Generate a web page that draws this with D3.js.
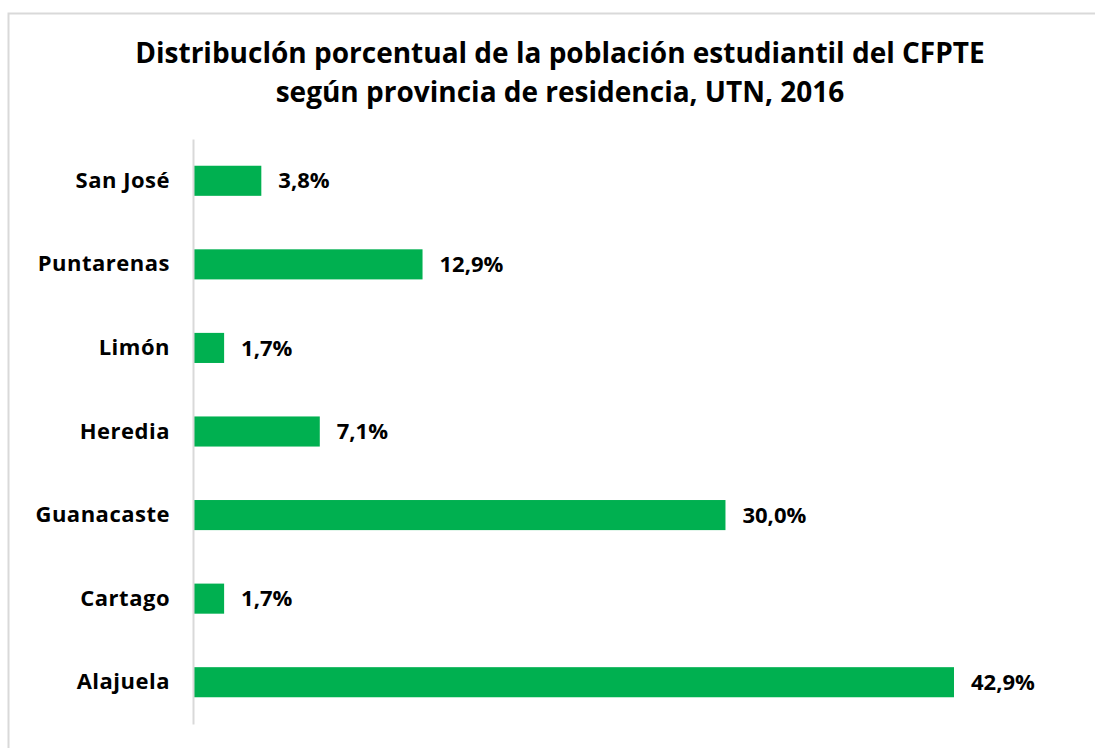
<!DOCTYPE html>
<html>
<head>
<meta charset="utf-8">
<script src="https://cdn.jsdelivr.net/npm/d3@7"></script>
<style>
  body { margin: 0; background: #fff; }
  text { font-family: "Open Sans", sans-serif; font-weight: bold; fill: #000; }
</style>
</head>
<body>
<div id="container"></div>
<script>
var provincias = ["San José", "Puntarenas", "Limón ", "Heredia", "Guanacaste", "Cartago", "Alajuela"];
var porcentajes = [3.8, 12.9, 1.7, 7.1, 30.0, 1.7, 42.9];
var titulo = ["Distribuclón porcentual de la población estudiantil del CFPTE", "según provincia de residencia, UTN, 2016"];

var width = 1095, height = 748;
var margin = { top: 139, left: 194, bottom: 24 };

var svg = d3.select('#container').append('svg').attr('width', width).attr('height', height);

// marco del grafico
svg.append('rect').attr('x', 8.5).attr('y', 13.5).attr('width', 1100).attr('height', 760)
    .attr('fill', 'none').attr('stroke', '#d9d9d9').attr('stroke-width', 2);

svg.selectAll('.titulo').data(titulo).enter().append('text')
    .attr('class', 'titulo')
    .attr('x', 560).attr('y', function (d, i) { return 63 + i * 39; })
    .attr('text-anchor', 'middle').style('font-size', '28px')
    .text(function (d) { return d; });

var x = d3.scaleLinear().domain([0, 42.9]).range([margin.left, 954]);
var y = d3.scaleBand().domain(provincias).range([margin.top, height - margin.bottom]).paddingInner(0.64).paddingOuter(0.32);

var g = svg.append('g');
g.selectAll('.bar').data(porcentajes).enter().append('rect')
    .attr('class', 'bar')
    .attr('x', x(0))
    .attr('y', function (d, i) { return y(provincias[i]); })
    .attr('width', function (d) { return x(d) - x(0); })
    .attr('height', y.bandwidth())
    .attr('fill', '#00b050');

g.selectAll('.valor').data(porcentajes).enter().append('text')
    .attr('class', 'valor')
    .attr('x', function (d) { return x(d) + 17; })
    .attr('y', function (d, i) { return y(provincias[i]) + y.bandwidth() / 2; })
    .attr('dy', '0.35em').style('font-size', '22px')
    .text(function (d) { return d.toFixed(1).replace('.', ',') + '%'; });

var yAxis = d3.axisLeft(y).tickSize(0).tickPadding(23);
var ax = svg.append('g').attr('transform', 'translate(' + (margin.left - 1) + ',0)').call(yAxis);
ax.select('.domain').attr('stroke', '#d9d9d9').attr('stroke-width', 2);
ax.selectAll('.tick text').style('font-size', '22px').style('letter-spacing', '0.5px')
    .style('font-family', '"Open Sans", sans-serif').style('font-weight', 'bold').attr('fill', '#000');
</script>
</body>
</html>
